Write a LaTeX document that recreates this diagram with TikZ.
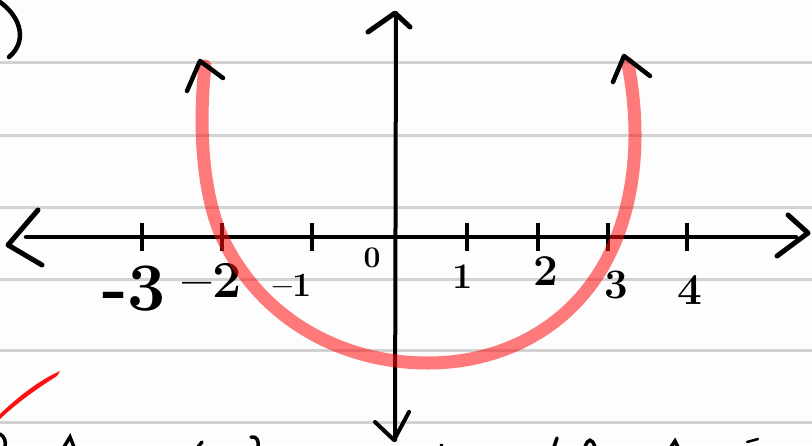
\documentclass[tikz,border=0pt]{standalone}
\usepackage{fontspec}
\usetikzlibrary{calc}
\definecolor{paper}{HTML}{FDFDFD}
\definecolor{rule}{HTML}{D2D2D2}
\definecolor{curvered}{HTML}{FF1010}
\begin{document}
\begin{tikzpicture}[x=1pt,y=-1pt,
  ruled/.style={draw=rule,line width=3pt},
  axis/.style={draw=black,line width=4.5pt,line cap=round,line join=round},
  chev/.style={draw=black,line width=5pt,line cap=round,line join=round},
  tickmark/.style={draw=black,line width=3.5pt},
  lbl/.style={font=\fontsize{#1}{#1}\selectfont\bfseries,inner sep=0pt,text=black},
  graphline/.style={draw=curvered,draw opacity=0.55,line width=13pt,line cap=round},
  ink/.style={draw=black,line width=3.5pt,line cap=round}]
\useasboundingbox (0,0) rectangle (812,445);
\fill[paper] (0,0) rectangle (812,445);
% ruled paper lines
\foreach \yy in {62,135,207,279,350,422} \draw[ruled] (0,\yy) -- (812,\yy);
% axes
\coordinate (xl) at (26,237);
\coordinate (xr) at (796,237);
\coordinate (yt) at (396,14);
\coordinate (yb) at (395,440);
\draw[axis] (xl) -- (xr);
\draw[axis,line width=4pt] (yt) -- (yb);
% arrowheads (hand drawn chevrons)
\draw[chev] ($(xl)+(12,-27)$) -- ($(xl)+(-18,8)$) -- ($(xl)+(16,28)$);
\draw[chev] ($(xr)+(-8,-22)$) -- ($(xr)+(12,-4)$) -- ($(xr)+(-19,19)$);
\draw[chev] ($(yt)+(-28,18)$) -- ($(yt)+(-1,-1)$) -- ($(yt)+(14,13)$);
\draw[chev,line width=4pt] ($(yb)+(14,-28)$) -- ($(yb)+(-1,0)$) -- ($(yb)+(-20,-18)$);
% ticks
\foreach \xx in {142,222,312,467,538,608,687} \draw[tickmark] (\xx,223) -- (\xx,251);
% labels
\node[lbl=68] (lm3) at (134,289) {-3};
\node[lbl=52] (lm2) at (212,280) {--2};
\node[lbl=34] (lm1) at (292,285) {--1};
\node[lbl=30] (l0) at (372,258) {0};
\node[lbl=36] (l1) at (463,277) {1};
\node[lbl=44] (l2) at (546,271) {2};
\node[lbl=42] (l3) at (616,285) {3};
\node[lbl=44] (l4) at (690,290) {4};
% graph curve
\coordinate (gl) at (205,66);
\coordinate (gr) at (628,64);
\coordinate (gm) at (428,363);
\draw[graphline] (gl) .. controls (199,120) and (201,190) .. (222,237)
  .. controls (260,318) and (340,363) .. (gm)
  .. controls (510,363) and (585,320) .. (617,237)
  .. controls (641,175) and (637,110) .. (gr);
% arrowheads on curve
\draw[chev,line width=4.5pt] ($(gl)+(-18,25)$) -- ($(gl)+(-5,-5)$) -- ($(gl)+(18,12)$);
\draw[chev,line width=4.5pt] ($(gr)+(-15,18)$) -- ($(gr)+(-4,-8)$) -- ($(gr)+(22,12)$);
% fragments at the edges
\draw[ink,line width=4.5pt] (0,2) .. controls (22,18) and (27,42) .. (9,57);
\fill[curvered] (0,414) .. controls (20,395) and (40,380) .. (60,371) -- (57,376) .. controls (38,388) and (18,402) .. (0,419) -- cycle;
\draw[ink] (0,434) .. controls (5,437) and (6,442) .. (5,447);
\draw[ink] (64,447) -- (70,437) -- (74,447);
\draw[ink] (198,447) -- (202,442);
\draw[ink] (251,437) .. controls (257,436) and (259,441) .. (258,447);
\draw[ink] (441,445) -- (442,446);
\draw[ink] (554,447) -- (557,438);
\draw[ink] (585,447) .. controls (588,438) and (592,438) .. (595,447);
\draw[ink] (671,447) -- (675,441) -- (678,447);
\draw[ink,line width=2.5pt] (747,442) -- (758,439);
\end{tikzpicture}
\end{document}
